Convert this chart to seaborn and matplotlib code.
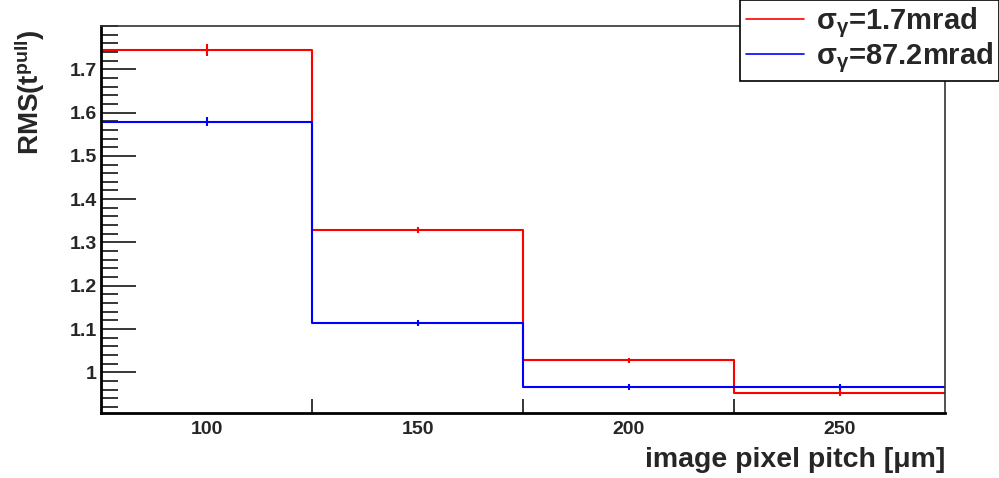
import numpy as np
import matplotlib
matplotlib.use("Agg")
import matplotlib.pyplot as plt
import seaborn as sns
from matplotlib.ticker import MultipleLocator, FixedLocator

# pixel pitch bins (um) and RMS of the pull for two angular spreads
bin_edges = [75, 125, 175, 225, 275]
pitch = [100, 150, 200, 250]
rms_small = [1.744, 1.329, 1.028, 0.952]
err_small = [0.014, 0.007, 0.006, 0.006]
rms_large = [1.579, 1.114, 0.966, 0.966]
err_large = [0.011, 0.007, 0.006, 0.007]
labels = ["σ$_{γ}$=1.7mrad", "σ$_{γ}$=87.2mrad"]

sns.set_style("white")
plt.rcParams["font.family"] = ["Liberation Sans", "DejaVu Sans"]
plt.rcParams["font.weight"] = "bold"
plt.rcParams["mathtext.fontset"] = "custom"
plt.rcParams["mathtext.rm"] = "Liberation Sans"
plt.rcParams["mathtext.it"] = "Liberation Sans"
plt.rcParams["mathtext.bf"] = "Liberation Sans:bold"

fig = plt.figure(figsize=(9.99, 4.78), dpi=100)
ax = fig.add_axes([101 / 999, 1 - 413 / 478, 844 / 999, 387 / 478])

for vals, errs, col, lab in [(rms_small, err_small, "#ff0000", labels[0]),
                             (rms_large, err_large, "#0000ff", labels[1])]:
    sns.histplot(x=pitch, weights=vals, bins=bin_edges, element="step",
                 fill=False, color=col, linewidth=1.5, ax=ax, label=lab)
    ax.errorbar(pitch, vals, yerr=errs, fmt="none", ecolor=col, elinewidth=1.5)

ax.set_xlim(75, 275)
ax.set_ylim(0.906, 1.80)

ax.xaxis.set_major_locator(FixedLocator(pitch))
ax.xaxis.set_minor_locator(FixedLocator(bin_edges[1:-1]))
ax.yaxis.set_major_locator(MultipleLocator(0.1))
ax.yaxis.set_minor_locator(MultipleLocator(0.02))
ax.set_yticks(np.arange(1.0, 1.75, 0.1))
ax.set_yticklabels(["1", "1.1", "1.2", "1.3", "1.4", "1.5", "1.6", "1.7"])

ax.tick_params(axis="x", which="major", length=0, pad=6, labelsize=14)
ax.tick_params(axis="x", which="minor", direction="in", length=10, width=1.3,
               bottom=True, top=False)
ax.tick_params(axis="y", which="major", direction="in", length=25, width=1.3,
               pad=3, labelsize=14, left=True, right=False)
ax.tick_params(axis="y", which="minor", direction="in", length=12, width=1.3,
               left=True, right=False)

for side in ["left", "bottom"]:
    ax.spines[side].set_linewidth(2)
    ax.spines[side].set_color("black")
for side in ["top", "right"]:
    ax.spines[side].set_linewidth(1.2)
    ax.spines[side].set_color("#333333")

ax.set_xlabel("image pixel pitch [μm]", fontsize=20.5, fontweight="bold",
              loc="right", labelpad=6)
ax.set_ylabel("RMS(t$^{pull}$)", fontsize=20, fontweight="bold", loc="top")
ax.yaxis.label.set_va("center")
ax.yaxis.set_label_coords(-0.084, 0.99)

handles, labs = ax.get_legend_handles_labels()
leg = fig.legend(handles, labs, loc="upper right", bbox_to_anchor=(1.0, 1.0),
                 fontsize=21, frameon=True, fancybox=False, edgecolor="black",
                 framealpha=1, borderpad=0.2, handlelength=2.0,
                 handletextpad=0.4, labelspacing=0.0, borderaxespad=0.0)
leg.get_frame().set_linewidth(1.2)
for t in leg.get_texts():
    t.set_fontweight("bold")
for h in leg.legend_handles:
    h.set_linewidth(1.2)

fig.savefig("out.png", dpi=100)
